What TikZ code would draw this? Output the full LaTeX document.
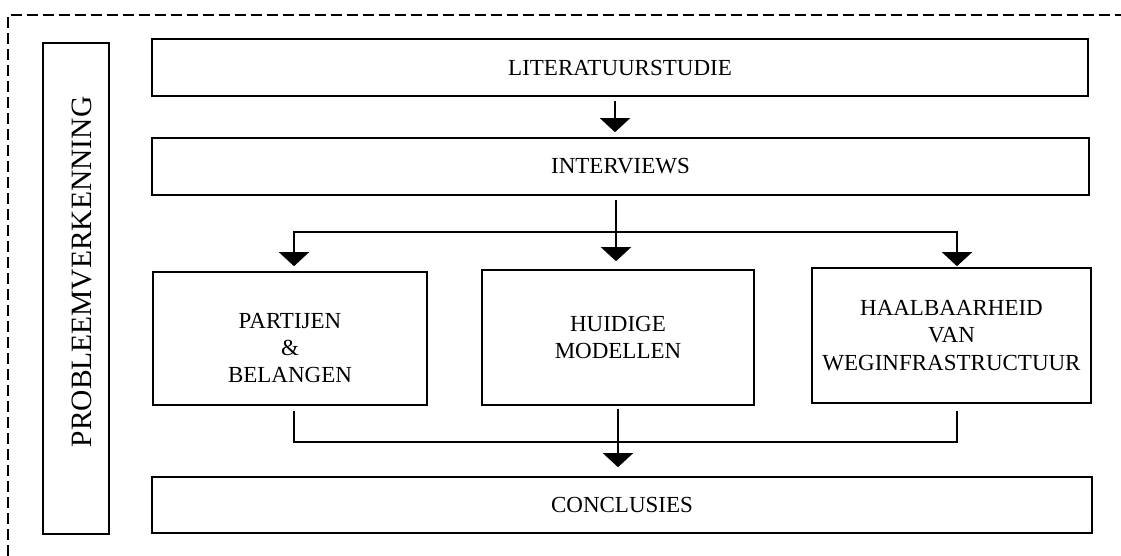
\documentclass[tikz,border=0pt]{standalone}
\usepackage{fontspec}
\setmainfont{Liberation Serif}
\usetikzlibrary{arrows.meta}
\begin{document}
\begin{tikzpicture}[x=1pt,y=-1pt,
  box/.style={draw=black, line width=1.6pt, rectangle, inner sep=0pt, align=center,
    font=\fontsize{23}{27.5}\selectfont},
  txt/.style={inner sep=0pt, align=center, font=\fontsize{23}{27}\selectfont},
  conn/.style={draw=black, line width=1.4pt},
  arr/.style={conn, -{Triangle[width=30pt,length=14pt]}},
  frame/.style={draw=black, line width=2pt, dash pattern=on 11pt off 5pt}]
\useasboundingbox (0,0) rectangle (1121,556);
\draw[frame] (8,556) -- (8,15) -- (1121,15);

\node[box, minimum width=66pt, minimum height=491pt] (prob) at (76,288.5) {};
\node[txt, rotate=90, font=\fontsize{29.5}{34}\selectfont] (probT) at (82,272) {PROBLEEMVERKENNING};

\node[box, minimum width=936pt, minimum height=57pt] (lit) at (620,67.5) {LITERATUURSTUDIE};
\node[box, minimum width=937pt, minimum height=57pt] (int) at (620.5,166.5) {INTERVIEWS};

\node[box, minimum width=274pt, minimum height=133pt] (part) at (290,338.5) {};
\node[txt] (partT) at ([yshift=-10pt]part.center) {PARTIJEN\\\&\\BELANGEN};
\node[box, minimum width=272pt, minimum height=135pt] (huid) at (618,337.5) {HUIDIGE\\MODELLEN};
\node[box, minimum width=279pt, minimum height=135pt] (haal) at (951.5,335.5) {HAALBAARHEID\\VAN\\WEGINFRASTRUCTUUR};

\node[box, minimum width=940pt, minimum height=56pt] (conc) at (622,505) {CONCLUSIES};

% top arrow
\draw[arr, shorten <=4pt, shorten >=5pt] ([xshift=-5pt]lit.south) -- ([xshift=-5.5pt]int.north);

% branch
\coordinate (bc) at (616,232);
\draw[arr, shorten <=4pt, shorten >=8pt] ([xshift=-4.5pt]int.south) -- ([xshift=-2pt]huid.north);
\draw[arr, shorten >=5pt] (bc) -| ([xshift=4pt]part.north);
\draw[arr, shorten >=1pt] (bc) -| ([xshift=5.5pt]haal.north);

% merge
\draw[conn] ([xshift=4pt,yshift=-5pt]part.south) |- ([xshift=5.5pt,yshift=-38pt]haal.south) -- ([xshift=5.5pt,yshift=-7pt]haal.south);
\draw[arr, shorten <=3pt, shorten >=9pt] (huid.south) -- ([xshift=-4pt]conc.north);
\end{tikzpicture}
\end{document}
